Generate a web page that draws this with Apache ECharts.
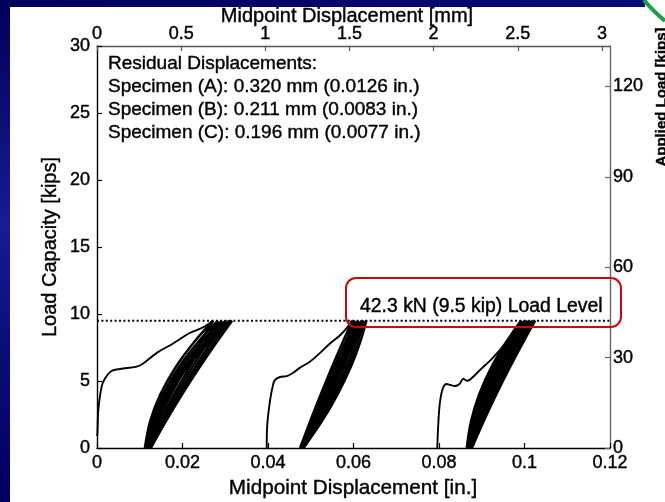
<!DOCTYPE html>
<html>
<head>
<meta charset="utf-8">
<script src="https://cdn.jsdelivr.net/npm/echarts@6/dist/echarts.min.js"></script>
<style>
  html, body { margin: 0; padding: 0; background: #ffffff; }
  #chart { width: 665px; height: 502px; }
</style>
</head>
<body>
<div id="chart"></div>
<script>
// ---- Axis ranges (inches / kips, with metric twins) ----
const inchRange = [0, 0.12];
const mmRange = [0, 3.048];          // 0.12 in expressed in mm
const kipRange = [0, 30];
const kNRange = [0, 133.45];         // 30 kips expressed in kN

// ---- Target load level of the cyclic test ----
const loadLevelKip = 9.5;
const loadLevelLabel = '42.3 kN (9.5 kip) Load Level';

// ---- Residual displacements printed in the note ----
const specimenNames = ['A', 'B', 'C'];
const residualMm = ['0.320', '0.211', '0.196'];
const residualIn = ['0.0126', '0.0083', '0.0077'];

// ---- First loading branch of each specimen: [displacement in., load kips] ----
const firstLoadA = [
  [0.0000, 0.9], [0.0001, 1.1], [0.0003, 2.8], [0.0011, 4.6], [0.0019, 5.2],
  [0.0034, 5.75], [0.0054, 5.9], [0.0093, 6.07], [0.0108, 6.3], [0.0140, 7.1],
  [0.0178, 7.8], [0.0218, 8.6], [0.0248, 9.0], [0.0271, 9.5]
];
const firstLoadB = [
  [0.0397, 0], [0.0398, 1.6], [0.0405, 3.6], [0.0411, 4.6], [0.0416, 5.07],
  [0.0428, 5.3], [0.0444, 5.37], [0.0458, 5.6], [0.0475, 6.0], [0.0498, 6.44],
  [0.0522, 7.1], [0.0545, 7.8], [0.0568, 8.4], [0.0584, 8.95], [0.0596, 9.5]
];
const firstLoadC = [
  [0.0796, 0], [0.0798, 1.6], [0.0802, 3.35], [0.0809, 4.45], [0.0818, 4.78],
  [0.0827, 4.7], [0.0837, 4.63], [0.0848, 4.78], [0.0857, 5.17], [0.0865, 5.02],
  [0.0873, 5.12], [0.0896, 5.82], [0.0927, 6.77], [0.0958, 7.93], [0.0978, 8.93],
  [0.0991, 9.5]
];

// ---- Repeated load cycles: displacement (in.) read at these loads (kips) ----
const cycleLoads = [0, 2, 4, 6, 8, 9.5];

const reloadA = [
  [0.0112, 0.01417, 0.01735, 0.02075, 0.02436, 0.0272],
  [0.0116, 0.0147, 0.01802, 0.02156, 0.02533, 0.0283],
  [0.0119, 0.01511, 0.01855, 0.02222, 0.02612, 0.0292],
  [0.0122, 0.01552, 0.01908, 0.02288, 0.02692, 0.0301],
  [0.0124, 0.01583, 0.01951, 0.02344, 0.02761, 0.0309],
  [0.0126, 0.01613, 0.01991, 0.02394, 0.02822, 0.0316]
];
const unloadA = [
  [0.0112, 0.01244, 0.01482, 0.01833, 0.02297, 0.0272],
  [0.0116, 0.01289, 0.01538, 0.01904, 0.02389, 0.0283],
  [0.0119, 0.01324, 0.01581, 0.01961, 0.02463, 0.0292],
  [0.0122, 0.01359, 0.01625, 0.02017, 0.02537, 0.0301],
  [0.0124, 0.01383, 0.01658, 0.02064, 0.02601, 0.0309],
  [0.0126, 0.01407, 0.0169, 0.02107, 0.02658, 0.0316]
];

const reloadB = [
  [0.0475, 0.05108, 0.05412, 0.05663, 0.05858, 0.0597],
  [0.0477, 0.05143, 0.0546, 0.0572, 0.05924, 0.0604],
  [0.0479, 0.05178, 0.05507, 0.05777, 0.05989, 0.0611],
  [0.0480, 0.05205, 0.05549, 0.05832, 0.06054, 0.0618],
  [0.0482, 0.05237, 0.05591, 0.05882, 0.0611, 0.0624],
  [0.0483, 0.05262, 0.05628, 0.0593, 0.06166, 0.0630]
];
const unloadB = [
  [0.0475, 0.04987, 0.05234, 0.05492, 0.05761, 0.0597],
  [0.0477, 0.05016, 0.05274, 0.05543, 0.05823, 0.0604],
  [0.0479, 0.05046, 0.05314, 0.05593, 0.05884, 0.0611],
  [0.0480, 0.05068, 0.05347, 0.05639, 0.05944, 0.0618],
  [0.0482, 0.05095, 0.05383, 0.05684, 0.05997, 0.0624],
  [0.0483, 0.05115, 0.05413, 0.05724, 0.06048, 0.0630]
];

const reloadC = [
  [0.0865, 0.08888, 0.09142, 0.09414, 0.09702, 0.0993],
  [0.0868, 0.08925, 0.09188, 0.09468, 0.09765, 0.1000],
  [0.0871, 0.08962, 0.09233, 0.09522, 0.09828, 0.1007],
  [0.0873, 0.0899, 0.09268, 0.09565, 0.09881, 0.1013],
  [0.0875, 0.09017, 0.09304, 0.09609, 0.09934, 0.1019],
  [0.0877, 0.09045, 0.09339, 0.09653, 0.09987, 0.1025]
];
const unloadC = [
  [0.0865, 0.08749, 0.08939, 0.0922, 0.09592, 0.0993],
  [0.0868, 0.08782, 0.08978, 0.09268, 0.09651, 0.1000],
  [0.0871, 0.08815, 0.09017, 0.09316, 0.09711, 0.1007],
  [0.0873, 0.08839, 0.09047, 0.09354, 0.0976, 0.1013],
  [0.0875, 0.08862, 0.09076, 0.09391, 0.09809, 0.1019],
  [0.0877, 0.08885, 0.09105, 0.09429, 0.09859, 0.1025]
];

// ---- Build series ----
const FONT = '"Liberation Sans", Arial, sans-serif';
const INK = { textBorderColor: '#000', textBorderWidth: 0.4 };
const series = [];

function curve(data, width) {
  return {
    type: 'line', xAxisIndex: 0, yAxisIndex: 0, data: data,
    showSymbol: false, smooth: 0.35, silent: true, z: 3,
    lineStyle: { color: '#000000', width: width }
  };
}

// closed cycle: up the reloading branch, back down the unloading branch
function cyclePath(up, down) {
  const pts = cycleLoads.map((p, k) => [up[k], p]);
  for (let k = cycleLoads.length - 2; k >= 0; k--) pts.push([down[k], cycleLoads[k]]);
  return pts;
}

[[reloadA, unloadA], [reloadB, unloadB], [reloadC, unloadC]].forEach(([up, down]) => {
  up.forEach((u, i) => series.push(curve(cyclePath(u, down[i]), 2.5)));
});
[firstLoadA, firstLoadB, firstLoadC].forEach(d => series.push(curve(d, 1.9)));

// dotted load-level line across the full width
series.push({
  type: 'line', xAxisIndex: 0, yAxisIndex: 0, silent: true, showSymbol: false, z: 4,
  data: [[inchRange[0], loadLevelKip], [inchRange[1], loadLevelKip]],
  lineStyle: { color: '#000000', width: 2, type: [2, 2.4] }
});

// ---- Note text ----
const noteLines = ['Residual Displacements:'].concat(
  specimenNames.map((n, i) => 'Specimen (' + n + '): ' + residualMm[i] + ' mm (' + residualIn[i] + ' in.)')
);
const noteY = [64, 87, 110, 133];

function textStyle(text, font, align) {
  return Object.assign({ text: text, font: font + FONT, fill: '#000', align: align, verticalAlign: 'middle' },
    { stroke: '#000', lineWidth: 0.4 });
}

const graphics = [
  // slide frame
  { type: 'rect', z: 0, shape: { x: 0, y: 0, width: 10, height: 502 },
    style: { fill: new echarts.graphic.LinearGradient(0, 0, 0, 1, [
      { offset: 0, color: '#00005a' }, { offset: 0.45, color: '#1a1a92' },
      { offset: 0.7, color: '#0c0c78' }, { offset: 1, color: '#000060' }]) } },
  { type: 'rect', z: 0, shape: { x: 0, y: 0, width: 645, height: 7 },
    style: { fill: new echarts.graphic.LinearGradient(0, 0, 1, 0, [
      { offset: 0, color: '#00005c' }, { offset: 1, color: '#0a0a78' }]) } },
  { type: 'bezierCurve', z: 0,
    shape: { x1: 644, y1: 0, x2: 665, y2: 21, cpx1: 652, cpy1: 10 },
    style: { stroke: '#1aa040', lineWidth: 4, fill: null } },
  // axis titles
  { type: 'text', x: 353, y: 488, z: 10, style: textStyle('Midpoint Displacement [in.]', '20.7px ', 'center') },
  { type: 'text', x: 347, y: 16, z: 10, style: textStyle('Midpoint Displacement [mm]', '20px ', 'center') },
  { type: 'text', x: 50, y: 247, rotation: Math.PI / 2, z: 10, style: textStyle('Load Capacity [kips]', '20px ', 'center') },
  { type: 'text', x: 662, y: 97, rotation: Math.PI / 2, z: 10, style: textStyle('Applied Load [kips]', 'bold 15px ', 'center') },
  // load level callout
  { type: 'rect', z: 10, shape: { x: 346, y: 278, width: 275, height: 49, r: 10 },
    style: { fill: null, stroke: '#c80a0a', lineWidth: 2 } },
  { type: 'text', x: 360, y: 307, z: 10, style: textStyle(loadLevelLabel, '19.4px ', 'left') }
].concat(noteLines.map((t, i) => ({
  type: 'text', x: 108, y: noteY[i], z: 10, style: textStyle(t, '19px ', 'left')
})));

const tickLabel = Object.assign({ fontSize: 18, color: '#000', fontFamily: FONT }, INK);

const option = {
  animation: false,
  backgroundColor: '#ffffff',
  grid: { left: 97, top: 46, width: 513, height: 402, show: false },
  xAxis: [
    { type: 'value', position: 'bottom', min: inchRange[0], max: inchRange[1], interval: 0.02,
      axisLine: { onZero: false, lineStyle: { color: '#000', width: 1.4 } },
      axisTick: { inside: true, length: 5, lineStyle: { color: '#000', width: 1.2 } },
      axisLabel: Object.assign({ margin: 6 }, tickLabel), splitLine: { show: false } },
    { type: 'value', position: 'top', min: mmRange[0], max: mmRange[1], interval: 0.5,
      axisLine: { onZero: false, lineStyle: { color: '#555', width: 1.4 } },
      axisTick: { inside: true, length: 5, lineStyle: { color: '#555', width: 1.2 } },
      axisLabel: Object.assign({ margin: 3, showMaxLabel: false }, tickLabel), splitLine: { show: false } }
  ],
  yAxis: [
    { type: 'value', position: 'left', min: kipRange[0], max: kipRange[1], interval: 5,
      axisLine: { show: true, onZero: false, lineStyle: { color: '#000', width: 1.4 } },
      axisTick: { show: true, inside: true, length: 5, lineStyle: { color: '#000', width: 1.2 } },
      axisLabel: Object.assign({ margin: 7 }, tickLabel), splitLine: { show: false } },
    { type: 'value', position: 'right', min: kNRange[0], max: kNRange[1], interval: 30,
      axisLine: { show: true, onZero: false, lineStyle: { color: '#666', width: 1.4 } },
      axisTick: { show: true, inside: true, length: 5, lineStyle: { color: '#666', width: 1.2 } },
      axisLabel: Object.assign({ margin: 3, showMaxLabel: false }, tickLabel), splitLine: { show: false } }
  ],
  series: series,
  graphic: graphics
};

const chart = echarts.init(document.getElementById('chart'), null, { renderer: 'canvas' });
chart.setOption(option);
</script>
</body>
</html>
